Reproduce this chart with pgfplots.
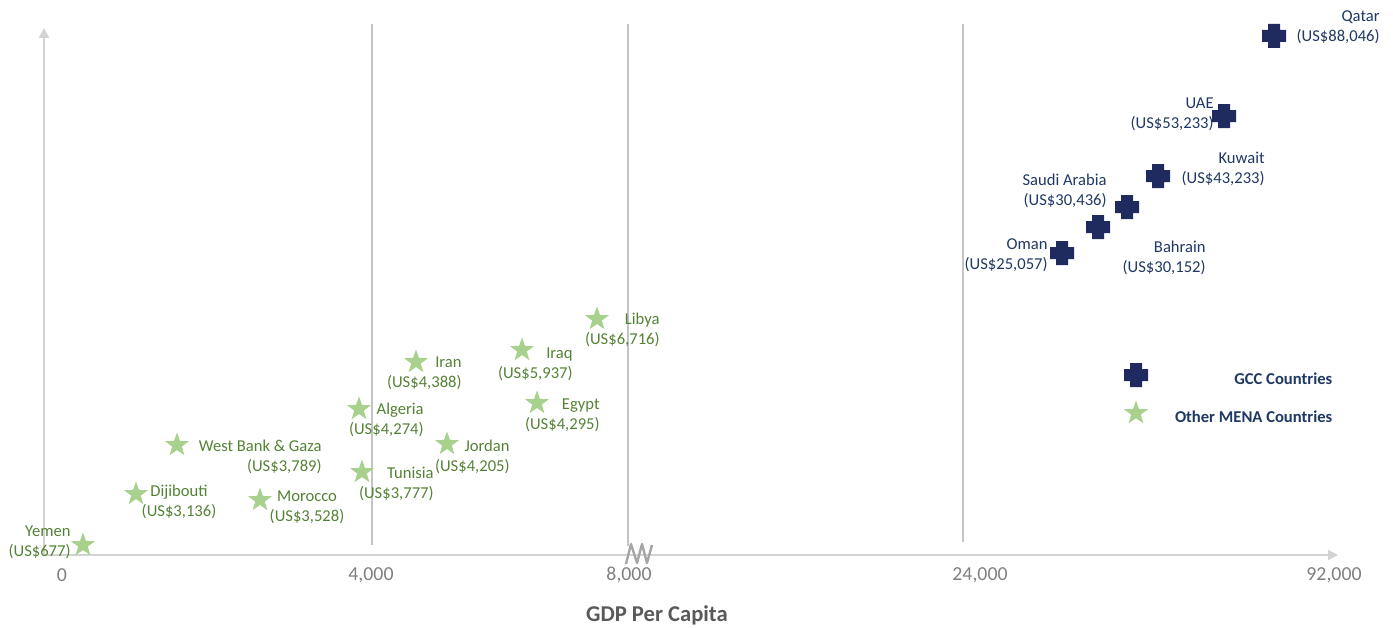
\documentclass[border=0pt]{standalone}
\usepackage{pgfplots}
\pgfplotsset{compat=1.18}
\usepackage{fontspec}
\setmainfont{Carlito}
\usetikzlibrary{arrows.meta}

\definecolor{gccblue}{HTML}{1F2A5E}
\definecolor{gcctext}{HTML}{203864}
\definecolor{menagreen}{HTML}{A9D18E}
\definecolor{menatext}{HTML}{548235}
\definecolor{axisgray}{HTML}{D3D3D3}
\definecolor{gridgray}{HTML}{C4C4C4}
\definecolor{breakgray}{HTML}{A6A6A6}
\definecolor{ticktext}{HTML}{7F7F7F}
\definecolor{titlegray}{HTML}{595959}

% filled plus sign for the GCC group
\pgfdeclareplotmark{gccplus}{%
  \pgfpathmoveto{\pgfpoint{-0.5\pgfplotmarksize}{\pgfplotmarksize}}%
  \pgfpathlineto{\pgfpoint{0.5\pgfplotmarksize}{\pgfplotmarksize}}%
  \pgfpathlineto{\pgfpoint{0.5\pgfplotmarksize}{0.5\pgfplotmarksize}}%
  \pgfpathlineto{\pgfpoint{\pgfplotmarksize}{0.5\pgfplotmarksize}}%
  \pgfpathlineto{\pgfpoint{\pgfplotmarksize}{-0.5\pgfplotmarksize}}%
  \pgfpathlineto{\pgfpoint{0.5\pgfplotmarksize}{-0.5\pgfplotmarksize}}%
  \pgfpathlineto{\pgfpoint{0.5\pgfplotmarksize}{-\pgfplotmarksize}}%
  \pgfpathlineto{\pgfpoint{-0.5\pgfplotmarksize}{-\pgfplotmarksize}}%
  \pgfpathlineto{\pgfpoint{-0.5\pgfplotmarksize}{-0.5\pgfplotmarksize}}%
  \pgfpathlineto{\pgfpoint{-\pgfplotmarksize}{-0.5\pgfplotmarksize}}%
  \pgfpathlineto{\pgfpoint{-\pgfplotmarksize}{0.5\pgfplotmarksize}}%
  \pgfpathlineto{\pgfpoint{-0.5\pgfplotmarksize}{0.5\pgfplotmarksize}}%
  \pgfpathclose\pgfusepathqfill}

% filled five-pointed star for the other MENA countries
\pgfdeclareplotmark{menastar}{%
  \pgfpathmoveto{\pgfpointpolar{90}{\pgfplotmarksize}}%
  \pgfpathlineto{\pgfpointpolar{126}{0.40\pgfplotmarksize}}%
  \pgfpathlineto{\pgfpointpolar{162}{\pgfplotmarksize}}%
  \pgfpathlineto{\pgfpointpolar{198}{0.40\pgfplotmarksize}}%
  \pgfpathlineto{\pgfpointpolar{234}{\pgfplotmarksize}}%
  \pgfpathlineto{\pgfpointpolar{270}{0.40\pgfplotmarksize}}%
  \pgfpathlineto{\pgfpointpolar{306}{\pgfplotmarksize}}%
  \pgfpathlineto{\pgfpointpolar{342}{0.40\pgfplotmarksize}}%
  \pgfpathlineto{\pgfpointpolar{18}{\pgfplotmarksize}}%
  \pgfpathlineto{\pgfpointpolar{54}{0.40\pgfplotmarksize}}%
  \pgfpathclose\pgfusepathqfill}

\tikzset{
  menalab/.style={text=menatext, font=\fontsize{8.3}{10}\selectfont, inner sep=0pt, align=right, anchor=east},
  menalabc/.style={text=menatext, font=\fontsize{8.3}{10}\selectfont, inner sep=0pt, align=center, anchor=center},
  gcclab/.style={text=gcctext, font=\fontsize{8.3}{10}\selectfont, inner sep=0pt, align=right, anchor=east},
}

\begin{document}
\begin{tikzpicture}
\begin{axis}[
  scale only axis,
  width=647pt, height=263.5pt,
  xmin=44, xmax=1338, ymin=72, ymax=599,
  axis x line=bottom, axis y line=left,
  axis line style={draw=axisgray, line width=1pt},
  x axis line style={-{Triangle[length=5pt,width=5pt]}},
  y axis line style={-{Triangle[length=5pt,width=5pt]}},
  xtick={62,371,629,980,1334},
  xticklabels={0,{4,000},{8,000},{24,000},{92,000}},
  ytick=\empty,
  major tick length=0pt,
  xticklabel style={font=\fontsize{9.9}{12}\selectfont, text=ticktext, anchor=center, yshift=-10pt},
  clip=false,
  legend cell align=right,
  legend image post style={yshift=2.6pt},
  legend style={draw=none, fill=none, at={(axis cs:1124,264)}, anchor=north west,
    inner sep=0pt, outer sep=0pt, row sep=6.5pt, column sep=13.5pt,
    font=\bfseries\fontsize{8.3}{10}\selectfont, text=gcctext,
    nodes={inner sep=0pt}},
]

% page frame
\coordinate (bbsw) at (axis cs:0,0);
\coordinate (bbne) at (axis cs:1393,627);

% vertical guide lines and the scale break
\draw[gridgray, line width=0.55pt] (axis cs:372,82) -- (axis cs:372,603);
\draw[gridgray, line width=0.55pt] (axis cs:628,81) -- (axis cs:628,603);
\draw[gridgray, line width=0.55pt] (axis cs:963,85) -- (axis cs:963,603);
\draw[breakgray, line width=1.2pt, line join=round]
  (axis cs:626,63) -- (axis cs:631,83) -- (axis cs:637,64) -- (axis cs:642,83)
  -- (axis cs:647,64) -- (axis cs:652,82);

% GCC countries
\addplot[only marks, mark=gccplus, mark size=6pt, mark options={fill=gccblue}]
  coordinates {(1274,591) (1224,511) (1158,451) (1127,420) (1098,400) (1062,374)};
\addlegendentry{GCC Countries}

% other MENA countries
\addplot[only marks, mark=menastar, mark size=6.3pt, mark options={fill=menagreen}]
  coordinates {(83,82) (136,133) (177,182) (260,127) (362,155) (359,218)
               (416,265) (447,183) (522,277) (537,224) (597,308)};
\addlegendentry{Other MENA Countries}

% country labels
\node[gcclab] at (axis cs:1380,600) {Qatar\\(US\$88,046)};
\node[gcclab] at (axis cs:1214,513) {UAE\\(US\$53,233)};
\node[gcclab] at (axis cs:1265,458) {Kuwait\\(US\$43,233)};
\node[gcclab] at (axis cs:1107,436) {Saudi Arabia\\(US\$30,436)};
\node[gcclab] at (axis cs:1206,369) {Bahrain\\(US\$30,152)};
\node[gcclab] at (axis cs:1048,372) {Oman\\(US\$25,057)};

\node[menalab] at (axis cs:71,85) {Yemen\\(US\$677)};
\node[menalabc] at (axis cs:179,125) {Dijibouti\\(US\$3,136)};
\node[menalab] at (axis cs:322,170) {West Bank \& Gaza\\(US\$3,789)};
\node[menalabc] at (axis cs:307,120) {Morocco\\(US\$3,528)};
\node[menalab] at (axis cs:434,143) {Tunisia\\(US\$3,777)};
\node[menalab] at (axis cs:424,207) {Algeria\\(US\$4,274)};
\node[menalab] at (axis cs:462,254) {Iran\\(US\$4,388)};
\node[menalab] at (axis cs:510,170) {Jordan\\(US\$4,205)};
\node[menalab] at (axis cs:573,263) {Iraq\\(US\$5,937)};
\node[menalab] at (axis cs:600,212) {Egypt\\(US\$4,295)};
\node[menalab] at (axis cs:660,297) {Libya\\(US\$6,716)};

% axis title
\node[font=\bfseries\fontsize{11.3}{13}\selectfont, text=titlegray] at (axis cs:657,12) {GDP Per Capita};
\end{axis}
\pgfresetboundingbox
\path[use as bounding box] (bbsw) rectangle (bbne);
\end{tikzpicture}
\end{document}
